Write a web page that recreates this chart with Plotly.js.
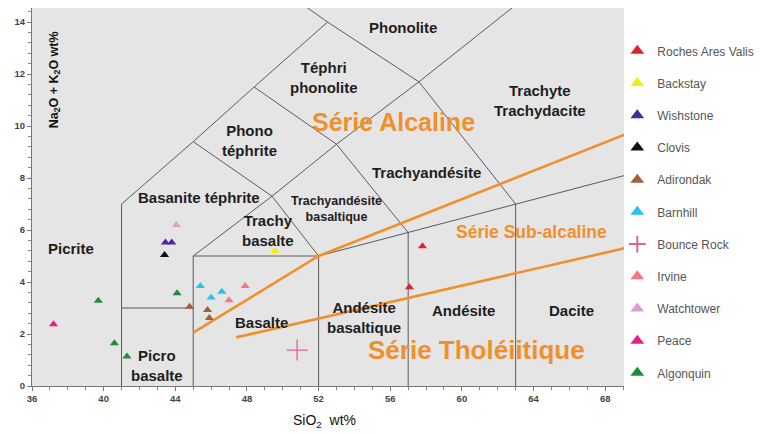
<!DOCTYPE html>
<html>
<head>
<meta charset="utf-8">
<script src="https://cdn.plot.ly/plotly-3.0.1.min.js"></script>
<style>html,body{margin:0;padding:0;background:#fff}#chart{width:766px;height:434px}</style>
</head>
<body>
<div id="chart"></div>
<script>
// ---- data ----
const seriesNames = ["Roches Ares Valis","Backstay","Wishstone","Clovis","Adirondak","Barnhill","Bounce Rock","Irvine","Watchtower","Peace","Algonquin"];
const rochesX = [57.8, 57.07];            const rochesY = [5.38, 3.8];
const backstayX = [49.55];                const backstayY = [5.19];
const wishstoneX = [43.45, 43.8];         const wishstoneY = [5.52, 5.52];
const clovisX = [43.4];                   const clovisY = [5.04];
const adirondakX = [44.8, 45.8, 45.9];    const adirondakY = [3.05, 2.92, 2.62];
const barnhillX = [45.4, 46.0, 46.6];     const barnhillY = [3.85, 3.4, 3.63];
const bounceX = [50.8];                   const bounceY = [1.38];
const irvineX = [47.9, 47.0];             const irvineY = [3.85, 3.3];
const watchtowerX = [44.06];              const watchtowerY = [6.19];
const peaceX = [37.2];                    const peaceY = [2.38];
const algonquinX = [39.7, 40.6, 41.3, 44.1]; const algonquinY = [3.28, 1.64, 1.13, 3.57];

// TAS field boundaries (null separates segments)
const tasX = [41,41,null, 41,45,null, 45,45,null, 45,52,null, 52,52,null, 57,57,null, 63,63,null,
              52,57,63,69.1,null, 41,45,48.4,52.5,null, 48.4,52.5,57.6,63,null,
              45,49.4,52,null, 48.4,53,57,null, 45,49.4,53,57.6,64];
const tasY = [0,7,null, 3,3,null, 0,5,null, 5,5,null, 0,5,null, 0,5.9,null, 0,7,null,
              5,5.9,7,8.1,null, 7,9.4,11.5,14,null, 16,14,11.7,7,null,
              9.4,7.3,5,null, 11.5,9.3,5.9,null, 5,7.3,9.3,11.7,15.2];
// Series dividing lines (orange)
const alkX = [45, 52, 69.1];   const alkY = [2.05, 5.0, 9.67];
const thoX = [47.4, 69.1];     const thoY = [1.87, 5.3];

const xTicks = [36,40,44,48,52,56,60,64,68];
const yTicks = [0,2,4,6,8,10,12,14];

// ---- traces ----
const gray = "#5a5a5a";
const orange = "#f0902c";
const traces = [
  {x: tasX, y: tasY, mode: "lines", line: {color: gray, width: 1}, showlegend: false, hoverinfo: "skip"},
  {x: alkX, y: alkY, mode: "lines", line: {color: orange, width: 2.6}, showlegend: false, hoverinfo: "skip"},
  {x: thoX, y: thoY, mode: "lines", line: {color: orange, width: 2.6}, showlegend: false, hoverinfo: "skip"}
];
const pts = [
  [rochesX, rochesY, "#e0202a", "triangle-up"],
  [backstayX, backstayY, "#f2ee10", "triangle-up"],
  [wishstoneX, wishstoneY, "#4a2a9c", "triangle-up"],
  [clovisX, clovisY, "#111111", "triangle-up"],
  [adirondakX, adirondakY, "#a0603a", "triangle-up"],
  [barnhillX, barnhillY, "#2cc0ec", "triangle-up"],
  [bounceX, bounceY, "#e0609a", "cross-thin"],
  [irvineX, irvineY, "#f07a80", "triangle-up"],
  [watchtowerX, watchtowerY, "#dca0cc", "triangle-up"],
  [peaceX, peaceY, "#e41e8c", "triangle-up"],
  [algonquinX, algonquinY, "#1e8c3c", "triangle-up"]
];
pts.forEach((p, i) => {
  const cross = p[3] === "cross-thin";
  traces.push({
    x: p[0], y: p[1], name: seriesNames[i], mode: "markers", legendgroup: "g" + i,
    marker: cross ? {symbol: "cross-thin", size: 15, line: {color: p[2], width: 1.3}, color: p[2]}
                  : {symbol: "triangle-up", size: 8, color: p[2]}
  });
});

const lab = (x, y, t, size, color, extra) => Object.assign({
  x: x, y: y, xref: "x", yref: "y", text: t, showarrow: false,
  font: {family: "Liberation Sans, Arial, sans-serif", size: size, color: color || "#1e1e1e", weight: "bold"}
}, extra || {});

const annotations = [
  lab(56.7, 13.8, "Phonolite", 15),
  lab(52.3, 11.85, "Téphri<br>phonolite", 15),
  lab(48.15, 9.45, "Phono<br>téphrite", 15),
  lab(64.35, 11.0, "Trachyte<br>Trachydacite", 15),
  lab(58.05, 8.23, "Trachyandésite", 15),
  lab(45.35, 7.27, "Basanite téphrite", 15),
  lab(53.0, 6.8, "Trachyandésite<br>basaltique", 12.5),
  lab(49.15, 6.0, "Trachy<br>basalte", 15),
  lab(38.2, 5.27, "Picrite", 15),
  lab(48.8, 2.46, "Basalte", 15),
  lab(54.55, 2.65, "Andésite<br>basaltique", 15),
  lab(60.1, 2.92, "Andésite", 15),
  lab(66.1, 2.92, "Dacite", 15),
  lab(43.0, 0.8, "Picro<br>basalte", 15),
  lab(56.2, 10.15, "Série Alcaline", 25, orange),
  lab(63.9, 5.92, "Série Sub-alcaline", 17.5, orange),
  lab(60.8, 1.38, "Série Tholéiitique", 26, orange),
  {xref: "paper", yref: "paper", x: 0.038, y: 0.81, xanchor: "center", yanchor: "middle",
   text: "Na<sub>2</sub>O + K<sub>2</sub>O wt%", textangle: -90,
   showarrow: false, font: {family: "Liberation Sans, Arial, sans-serif", size: 12.5, color: "#111", weight: "bold"}},
  {xref: "paper", yref: "paper", x: 0.494, y: -0.093, xanchor: "center", yanchor: "middle", text: "SiO<sub>2</sub>  wt%",
   showarrow: false, font: {family: "Liberation Sans, Arial, sans-serif", size: 14, color: "#111"}}
];

const tickFont = {family: "Liberation Sans Narrow, Liberation Sans, Arial, sans-serif", size: 9.5, color: "#444", weight: "bold"};
const layout = {
  width: 766, height: 434,
  margin: {l: 32, r: 141, t: 8, b: 48},
  paper_bgcolor: "#ffffff", plot_bgcolor: "#e5e5e5",
  showlegend: true,
  legend: {x: 0.987, y: 0.925, xanchor: "left", yanchor: "top", bgcolor: "rgba(0,0,0,0)",
           font: {family: "Liberation Sans, Arial, sans-serif", size: 12, color: "#555"},
           tracegroupgap: 13.2, itemwidth: 30, itemsizing: "constant"},
  xaxis: {range: [36, 69.05], tickvals: xTicks, ticktext: xTicks.map(String), ticks: "outside", ticklen: 4,
          tickcolor: "#777", showgrid: false, zeroline: false, showline: true, linecolor: "#777",
          minor: {dtick: 1, ticks: "outside", ticklen: 3, tickcolor: "#888"}, tickfont: tickFont},
  yaxis: {range: [0, 14.54], tickvals: yTicks, ticktext: yTicks.map(String), ticks: "outside", ticklen: 4,
          tickcolor: "#777", showgrid: false, zeroline: false, showline: true, linecolor: "#777",
          minor: {dtick: 0.4, ticks: "outside", ticklen: 3, tickcolor: "#888"}, tickfont: tickFont},
  annotations: annotations
};

Plotly.newPlot("chart", traces, layout, {displayModeBar: false, staticPlot: true});
</script>
</body>
</html>
